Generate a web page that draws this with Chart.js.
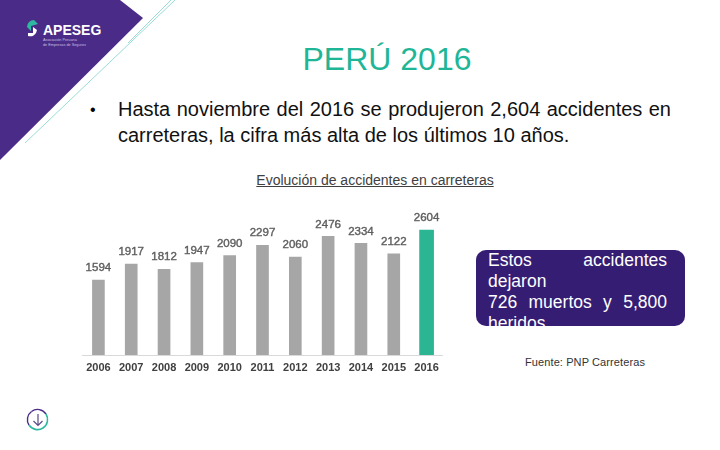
<!DOCTYPE html>
<html lang="es">
<head>
  <meta charset="UTF-8">
  <title>PERÚ 2016</title>
  <script src="https://cdn.jsdelivr.net/npm/chart.js"></script>
  <style>
    html, body { margin: 0; padding: 0; background: #fff; }
    body { width: 720px; height: 450px; overflow: hidden; position: relative; font-family: "Liberation Sans", Arial, sans-serif; }
    .abs { position: absolute; }
    #deco { left: 0; top: 0; }
    .logo { left: 43px; top: 21px; color: #fff; font-weight: bold; font-size: 14px; line-height: 18px; }
    .logo-sub { left: 43px; top: 38px; color: #c9bfe0; font-size: 3.8px; line-height: 4.5px; }
    .title { left: 187px; width: 400px; top: 41px; text-align: center; color: #1fb698; font-size: 32px; line-height: 36px; }
    .bullet { left: 90px; top: 97px; font-size: 16px; line-height: 26px; color: #000; }
    .line { left: 118px; width: 553px; font-size: 20px; line-height: 26px; color: #111; text-align: justify; text-align-last: justify; white-space: nowrap; }
    .chart-title { left: 175px; width: 400px; top: 172px; text-align: center; font-size: 14px; line-height: 16px; color: #404040; text-decoration: underline; }
    #chart-wrap { left: 82px; top: 200px; width: 361px; height: 180px; }
    .box { left: 476px; top: 250px; width: 209px; height: 76px; background: #361d74; border-radius: 10px; overflow: hidden; color: #fff; font-size: 17.5px; line-height: 21px; }
    .box div { position: absolute; left: 12px; width: 179px; white-space: nowrap; }
    .just { text-align: justify; text-align-last: justify; }
    .fuente { left: 525px; top: 355px; font-size: 11px; line-height: 14px; color: #333; letter-spacing: 0.1px; }
  </style>
</head>
<body>
  <!-- Slide decoration -->
  <svg id="deco" class="abs" width="720" height="450" viewBox="0 0 720 450">
    <polygon points="0,0 120,0 143,18 0,160" fill="#4a2b87"/>
    <line x1="175" y1="0" x2="25" y2="143" stroke="#9adcd4" stroke-width="1"/>
    <line x1="171" y1="0" x2="128" y2="43" stroke="#9adcd4" stroke-width="1"/>
    <path d="M34 20 A7 7 0 0 0 27 27 L31 31 L31 26 L38 24 Z" fill="#2fb8a0"/>
    <path d="M28 36 A7 7 0 0 0 37 30 L33 27 L33 33 L28 33 Z" fill="#fff"/>
    <path d="M31.5 411.5 A10 10 0 0 1 46 414" fill="none" stroke="#4a2b87" stroke-width="1.4"/>
    <path d="M31.5 411.5 A10 10 0 0 0 29 425" fill="none" stroke="#4a2b87" stroke-width="1.4"/>
    <path d="M46 414 A10 10 0 0 1 29 425" fill="none" stroke="#2fb8a0" stroke-width="1.6"/>
    <path d="M38 414 V425 M33.5 421 L38 425.5 L42.5 421" fill="none" stroke="#5a4a8a" stroke-width="1.2"/>
  </svg>
  <div class="abs logo">APESEG</div>
  <div class="abs logo-sub">Asociación Peruana<br>de Empresas de Seguros</div>

  <div class="abs title">PERÚ 2016</div>
  <div class="abs bullet">•</div>
  <div class="abs line" style="top:96px;">Hasta noviembre del 2016 se produjeron 2,604 accidentes en</div>
  <div class="abs line" style="top:122px;width:451px;">carreteras, la cifra más alta de los últimos 10 años.</div>
  <div class="abs chart-title">Evolución de accidentes en carreteras</div>

  <div id="chart-wrap" class="abs"><canvas id="accidentsChart" width="361" height="180"></canvas></div>

  <div class="abs box">
    <div class="just" style="top:0px;">Estos accidentes</div>
    <div style="top:21px;">dejaron</div>
    <div class="just" style="top:42px;">726 muertos y 5,800</div>
    <div style="top:63px;">heridos</div>
  </div>
  <div class="abs fuente">Fuente: PNP Carreteras</div>

  <script>
    const years = ['2006', '2007', '2008', '2009', '2010', '2011', '2012', '2013', '2014', '2015', '2016'];
    const previousYears = [1594, 1917, 1812, 1947, 2090, 2297, 2060, 2476, 2334, 2122, null];
    const currentYear = [null, null, null, null, null, null, null, null, null, null, 2604];

    // Value labels above each bar
    const valueLabels = {
      id: 'valueLabels',
      afterDatasetsDraw(chart) {
        const { ctx } = chart;
        ctx.save();
        ctx.font = '11.5px "Liberation Sans", Arial, sans-serif';
        ctx.fillStyle = '#5f5f5f';
        ctx.strokeStyle = '#5f5f5f';
        ctx.lineWidth = 0.4;
        ctx.textAlign = 'center';
        ctx.textBaseline = 'middle';
        chart.data.datasets.forEach((ds, i) => {
          chart.getDatasetMeta(i).data.forEach((bar, j) => {
            if (ds.data[j] == null) return;
            ctx.fillText(String(ds.data[j]), bar.x, bar.y - 12);
            ctx.strokeText(String(ds.data[j]), bar.x, bar.y - 12);
          });
        });
        ctx.restore();
      }
    };

    new Chart(document.getElementById('accidentsChart'), {
      type: 'bar',
      data: {
        labels: years,
        datasets: [
          { data: previousYears, backgroundColor: '#a6a6a6', barThickness: 12 },
          { data: currentYear, backgroundColor: '#2bb592', barThickness: 14 }
        ]
      },
      options: {
        responsive: false,
        animation: false,
        layout: { padding: 0 },
        plugins: { legend: { display: false }, title: { display: false }, tooltip: { enabled: false } },
        scales: {
          x: {
            stacked: true,
            afterFit(scale) { scale.height = 25; scale.paddingLeft = 0; scale.paddingRight = 0; },
            grid: { display: false, drawTicks: false },
            border: { color: '#d9d9d9', width: 1 },
            ticks: {
              color: '#404040',
              padding: 6,
              maxRotation: 0,
              autoSkip: false,
              font: { family: '"Liberation Sans", Arial, sans-serif', size: 11, weight: 'bold' }
            }
          },
          y: { stacked: true, display: false, min: 80, max: 3211 }
        }
      },
      plugins: [valueLabels]
    });
  </script>
</body>
</html>
